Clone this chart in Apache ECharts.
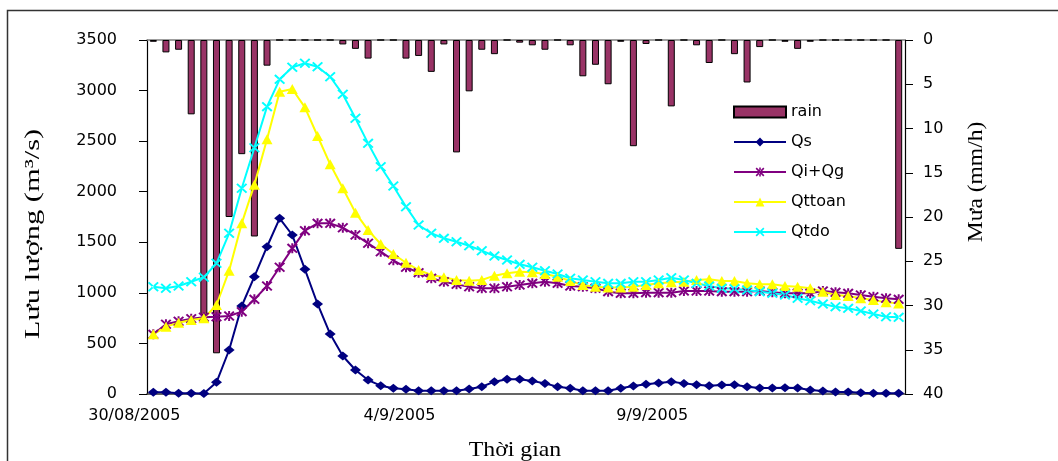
<!DOCTYPE html>
<html><head><meta charset="utf-8">
<script src="https://cdn.jsdelivr.net/npm/echarts@6/dist/echarts.min.js"></script>
<style>html,body{margin:0;padding:0;background:#fff}#c{width:1058px;height:461px}</style>
</head><body><div id="c"></div>
<script>
// six-hourly steps from 30/08/2005 00h to 14/09/2005 18h
const days = ['30/08','31/08','1/9','2/9','3/9','4/9','5/9','6/9','7/9','8/9','9/9','10/9','11/9','12/9','13/9'];
const hours = ['00h','06h','12h','18h'];
const categories = days.flatMap(d => hours.map(h => d + ' ' + h));
const xTickLabels = ['30/08/2005', '4/9/2005', '9/9/2005'];

const rain = [0.2,1.4,1.1,8.4,31.1,35.4,20.0,12.9,22.2,2.9, 0,0,0,0,0,0.5,1.0,2.1,0,0,
  2.1,1.8,3.6,0.5,12.7,5.8,1.1,1.6,0,0.3, 0.6,1.1,0,0.6,4.1,2.8,5.0,0.2,12.0,0.45,
  0,7.5,0,0.6,2.6,0,1.6,4.8,0.8,0, 0.2,1.0,0.2,0,0,0,0,0,0,23.6];
const qs = [17,17,7,7,5,115,435,870,1160,1456, 1737,1572,1233,890,593,376,237,138,82,56,
  46,33,33,33,33,49,72,122,145,145, 128,105,72,56,33,33,33,56,79,97,
  109,122,105,92,82,89,92,72,59,59, 63,59,40,30,20,20,13,7,7,7];
const qiqg = [590,690,720,745,760,764,771,814,936,1068, 1253,1440,1615,1687,1687,1644,1572,1490,1407,1322,
  1253,1200,1144,1110,1084,1061,1045,1045,1061,1078, 1094,1110,1094,1068,1061,1045,1012,995,995,1002,
  1002,1002,1018,1018,1018,1012,1012,1012,1018,1005, 995,995,995,1018,1005,995,979,962,946,936];
const qttoan = [590,666,705,732,748,880,1219,1687,2070,2518, 2989,3015,2834,2551,2271,2034,1793,1621,1483,1384,
  1298,1226,1177,1154,1127,1120,1127,1170,1193,1209, 1203,1186,1160,1117,1078,1061,1054,1054,1061,1078,
  1095,1105,1110,1127,1134,1117,1117,1094,1084,1084, 1068,1061,1045,1012,979,969,946,929,906,896];
const qtdo = [1061,1045,1068,1110,1154,1292,1589,2034,2435,2841, 3111,3230,3270,3236,3137,2963,2726,2478,2247,2056,
  1852,1671,1589,1539,1506,1466,1417,1364,1325,1282, 1253,1219,1186,1144,1127,1110,1094,1094,1110,1110,
  1127,1150,1127,1094,1068,1045,1040,1028,1012,995, 979,946,922,890,863,847,821,791,764,758];

const starPath = 'path://M4.1,0h1.8v10h-1.8z M0,1.3 L1.3,0 L10,8.7 L8.7,10z M10,1.3 L8.7,0 L0,8.7 L1.3,10z';
const crossPath = 'path://M0,1.3 L1.3,0 L10,8.7 L8.7,10z M10,1.3 L8.7,0 L0,8.7 L1.3,10z';
const numFont = 'DejaVu Sans';

const chart = echarts.init(document.getElementById('c'), null, {renderer: 'canvas'});
const lineBase = {type: 'line', showAllSymbol: true, symbolKeepAspect: false};
chart.setOption({
  animation: false,
  backgroundColor: '#fff',
  grid: {left: 147, right: 153, top: 40, bottom: 67},
  legend: {
    orient: 'vertical', left: 728, top: 98,
    itemWidth: 52, itemHeight: 11, itemGap: 12,
    textStyle: {fontFamily: numFont, fontSize: 16, lineHeight: 18, color: '#000'},
    data: [{name: 'rain', icon: 'rect'}, 'Qs', 'Qi+Qg', 'Qttoan', 'Qtdo']
  },
  xAxis: [{
    type: 'category', data: categories, boundaryGap: true, position: 'bottom',
    axisLine: {lineStyle: {color: '#333', width: 1.5}},
    axisTick: {interval: 9, length: 5, lineStyle: {color: '#000'}},
    axisLabel: {
      interval: 19, margin: 14, color: '#000', fontFamily: numFont, fontSize: 16,
      formatter: (v, i) => i % 20 === 0 ? '{' + (i === 0 ? 'f' : 'n') + '|' + xTickLabels[i / 20] + '}' : '',
      rich: {
        f: {fontFamily: numFont, fontSize: 16, color: '#000', padding: [0, 38, 0, 0]},
        n: {fontFamily: numFont, fontSize: 16, color: '#000', padding: [0, 13, 0, 0]}
      }
    },
    splitLine: {show: false}
  }, {
    type: 'category', data: categories, boundaryGap: true, position: 'top',
    axisLine: {lineStyle: {color: '#808080', width: 1.5}},
    axisTick: {show: false}, axisLabel: {show: false}, splitLine: {show: false}
  }],
  yAxis: [{
    type: 'value', min: 0, max: 3500, interval: 500, position: 'left',
    axisLine: {show: true, lineStyle: {color: '#000', width: 1.2}},
    axisTick: {show: true, length: 8, lineStyle: {color: '#000'}},
    axisLabel: {margin: 30, color: '#000', fontFamily: numFont, fontSize: 16, formatter: v => String(v)},
    splitLine: {show: false}
  }, {
    type: 'value', min: 0, max: 40, interval: 5, inverse: true, position: 'right',
    axisLine: {show: true, lineStyle: {color: '#000', width: 1.2}},
    axisTick: {show: true, length: 8, lineStyle: {color: '#000'}},
    axisLabel: {margin: 18, color: '#000', fontFamily: numFont, fontSize: 16, formatter: v => String(v)},
    splitLine: {show: false}
  }],
  graphic: [
    {type: 'rect', silent: true, z: -1, shape: {x: 7.5, y: 10.5, width: 1200, height: 600},
      style: {fill: null, stroke: '#333', lineWidth: 1.5}},
    {type: 'text', x: 33, y: 234, rotation: Math.PI / 2, scaleX: 1.45,
      style: {text: 'Lưu lượng (m³/s)', font: '21px "Liberation Serif"', fill: '#000', textAlign: 'center', textVerticalAlign: 'middle'}},
    {type: 'text', x: 976, y: 182, rotation: Math.PI / 2, scaleX: 1.12,
      style: {text: 'Mưa (mm/h)', font: '21px "Liberation Serif"', fill: '#000', textAlign: 'center', textVerticalAlign: 'middle'}},
    {type: 'text', x: 515, y: 450, scaleX: 1.08,
      style: {text: 'Thời gian', font: '22px "Liberation Serif"', fill: '#000', textAlign: 'center', textVerticalAlign: 'middle'}}
  ],
  series: [
    {name: 'rain', type: 'bar', xAxisIndex: 1, yAxisIndex: 1, data: rain, barWidth: 7,
      itemStyle: {color: '#993366', borderColor: '#000', borderWidth: 1}},
    Object.assign({}, lineBase, {name: 'Qs', data: qs, symbol: 'diamond', symbolSize: [11, 9],
      itemStyle: {color: '#000080'}, lineStyle: {color: '#000080', width: 2}}),
    Object.assign({}, lineBase, {name: 'Qi+Qg', data: qiqg, symbol: starPath, symbolSize: [11, 10],
      itemStyle: {color: '#800080'}, lineStyle: {color: '#800080', width: 2}}),
    Object.assign({}, lineBase, {name: 'Qttoan', data: qttoan, symbol: 'triangle', symbolSize: [11, 10],
      itemStyle: {color: '#FFFF00'}, lineStyle: {color: '#FFFF00', width: 2}}),
    Object.assign({}, lineBase, {name: 'Qtdo', data: qtdo, symbol: crossPath, symbolSize: [11, 10],
      itemStyle: {color: '#00FFFF'}, lineStyle: {color: '#00FFFF', width: 2}})
  ]
});
</script></body></html>
